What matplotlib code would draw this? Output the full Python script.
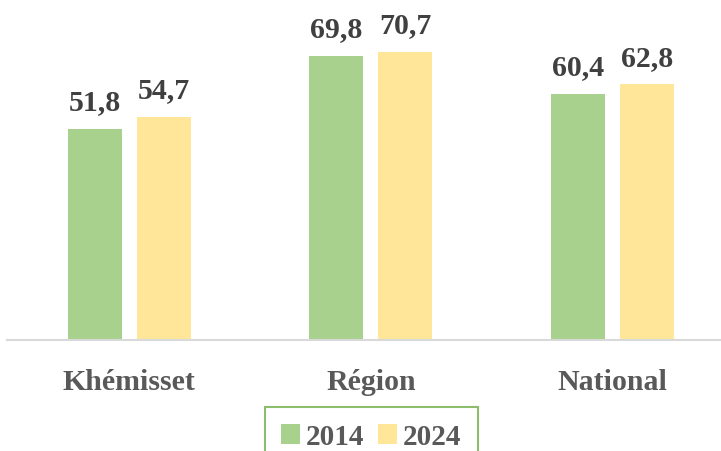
import matplotlib
matplotlib.use("Agg")
import matplotlib.pyplot as plt
from matplotlib.patches import Patch
import numpy as np

categories = ["Khémisset", "Région", "National"]
series_names = ["2014", "2024"]
values_2014 = [51.8, 69.8, 60.4]
values_2024 = [54.7, 70.7, 62.8]
colors = ["#A9D18E", "#FFE699"]

plt.rcParams['font.family'] = ['Liberation Serif', 'DejaVu Serif']
W, H = 721, 452
fig = plt.figure(figsize=(W/100, H/100), dpi=100)
left = 7 / W
axw = (733 - 7) / W
ax = fig.add_axes([left, 111 / H, axw, 341 / H])
ax.set_xlim(-0.507, 2.5)
ax.set_ylim(0, 83.8)

x = np.arange(len(categories))
bw = 0.224
off = 0.143
valc = "#404040"
catc = "#595959"
for vals, dx, c in [(values_2014, -off, colors[0]), (values_2024, off, colors[1])]:
    bars = ax.bar(x + dx, vals, width=bw, color=c, zorder=2)
    for b, v in zip(bars, vals):
        ax.annotate(f"{v:.1f}".replace(".", ","), (b.get_x() + b.get_width()/2, v),
                    xytext=(0, 10), textcoords="offset points", ha="center", va="bottom",
                    fontsize=21.5, fontweight="bold", color=valc)

for s in ["top", "right", "left"]:
    ax.spines[s].set_visible(False)
ax.spines["bottom"].set_color("#D9D9D9")
ax.spines["bottom"].set_linewidth(1.5)
ax.set_yticks([])
ax.set_xticks(x)
ax.set_xticklabels(categories, fontsize=21.5, fontweight="bold", color=catc)
ax.tick_params(axis="x", length=0, pad=20)

handles = [Patch(facecolor=colors[0], edgecolor="none"), Patch(facecolor=colors[1], edgecolor="none")]
leg = fig.legend(handles, series_names, loc="upper center", bbox_to_anchor=(371 / W, 44 / H),
                 ncol=2, frameon=True, fancybox=False,
                 prop={"weight": "bold", "size": 21}, handlelength=0.65, handleheight=0.65,
                 handletextpad=0.2, columnspacing=0.5, borderpad=0.55, borderaxespad=0)
leg.get_frame().set_edgecolor("#70AD47")
leg.get_frame().set_linewidth(1.5)
for t in leg.get_texts():
    t.set_color(catc)

fig.savefig("out.png", dpi=100)
